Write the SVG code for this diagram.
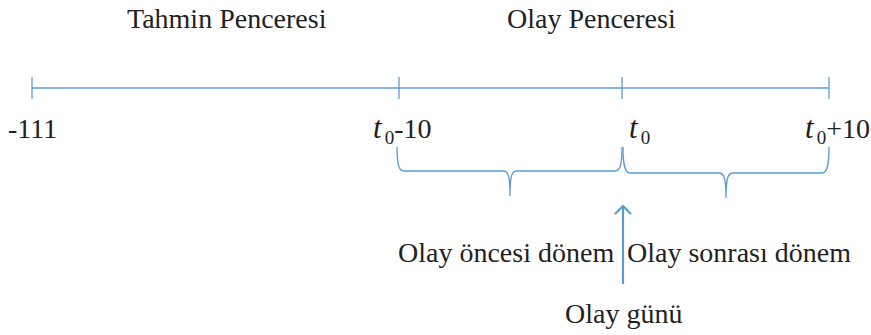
<svg xmlns="http://www.w3.org/2000/svg" width="871" height="335" viewBox="0 0 871 335">
<style>
.ln{stroke:#5B9BD5;stroke-width:1.3;fill:none}
.tx{font-family:"Liberation Serif","Times New Roman",serif;font-size:28px;fill:#231f20}
.it{font-style:italic;font-size:31px}
.sub{font-size:19px}
</style>
<defs>
<marker id="ah" markerWidth="20" markerHeight="20" refX="10" refY="10" orient="auto" markerUnits="userSpaceOnUse">
<path d="M2,2 L10,10 L2,18" fill="none" stroke="#5B9BD5" stroke-width="2.2"/>
</marker>
</defs>
<rect width="871" height="335" fill="#fff"/>
<g id="titles">
<text class="tx" x="127" y="28">Tahmin Penceresi</text>
<text class="tx" x="507" y="28">Olay Penceresi</text>
</g>
<g id="connectors">
<line class="ln" x1="32" y1="88" x2="829" y2="88"/>
<line class="ln" x1="32" y1="77" x2="32" y2="99"/>
<line class="ln" x1="399" y1="77" x2="399" y2="99"/>
<line class="ln" x1="622" y1="77" x2="622" y2="99"/>
<line class="ln" x1="829" y1="77" x2="829" y2="99"/>
<path class="ln" d="M397,147 C397,165 399,171 404,171 L503,171 C508,171 510,175 510,196 C510,175 512,171 517,171 L615,171 C620,171 622,165 622,147"/>
<path class="ln" d="M623,147 C623,166 625,173 630,173 L719,173 C724,173 726,178 726,198 C726,178 728,173 733,173 L822,173 C827,173 829,166 829,147"/>
<line x1="623" y1="284" x2="623" y2="206" stroke="#5B9BD5" stroke-width="2.2" marker-end="url(#ah)"/>
</g>
<g id="label-111"><text class="tx" x="8" y="138">-111</text></g>
<g id="label-t0m10"><text class="tx" x="373" y="138"><tspan class="it">t</tspan><tspan class="sub" dx="3" dy="6">0</tspan><tspan dy="-6">-10</tspan></text></g>
<g id="label-t0"><text class="tx" x="629" y="138"><tspan class="it">t</tspan><tspan class="sub" dx="3" dy="6">0</tspan></text></g>
<g id="label-t0p10"><text class="tx" x="805" y="138"><tspan class="it">t</tspan><tspan class="sub" dx="3" dy="6">0</tspan><tspan dy="-6">+10</tspan></text></g>
<g id="pre"><text class="tx" x="398" y="262">Olay öncesi dönem</text></g>
<g id="post"><text class="tx" x="627" y="262">Olay sonrası dönem</text></g>
<g id="eventday"><text class="tx" x="565" y="323">Olay günü</text></g>
</svg>
